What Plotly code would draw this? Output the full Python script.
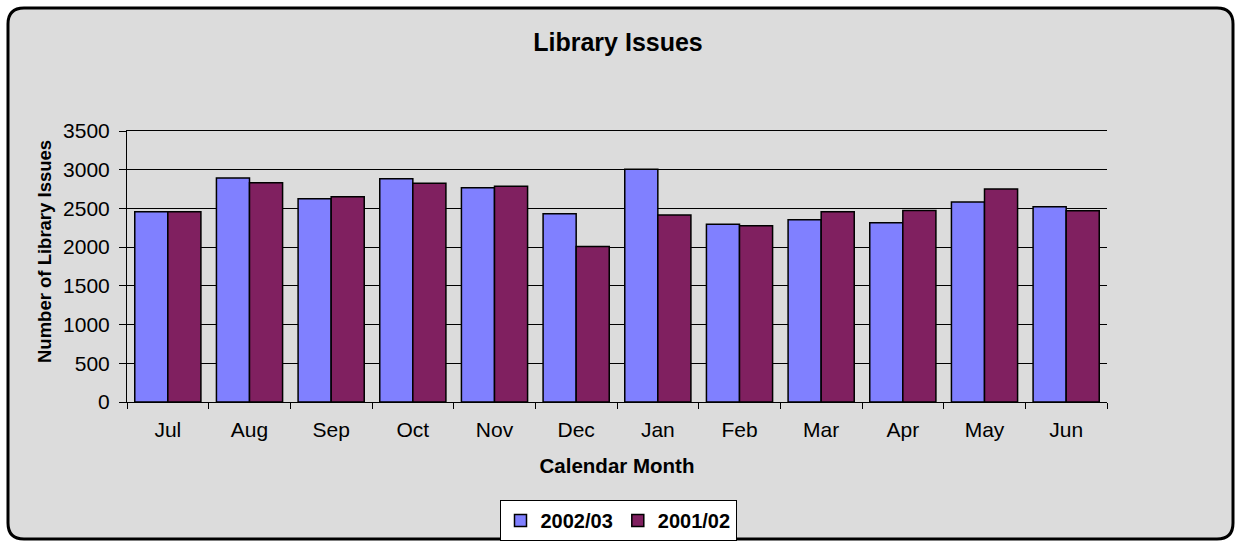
import plotly.graph_objects as go

months = ["Jul", "Aug", "Sep", "Oct", "Nov", "Dec", "Jan", "Feb", "Mar", "Apr", "May", "Jun"]
issues_2002_03 = [2456, 2893, 2625, 2884, 2768, 2431, 3005, 2297, 2353, 2314, 2582, 2521]
issues_2001_02 = [2456, 2833, 2651, 2824, 2785, 2007, 2414, 2275, 2456, 2473, 2751, 2470]
y_ticks = [0, 500, 1000, 1500, 2000, 2500, 3000, 3500]

W, H = 1236, 542
L, R, T, B = 127, 129, 131, 140
PW, PH = W - L - R, H - T - B

def px_x(p):
    return (p - L) / PW

def px_y(p):
    return (H - B - p) / PH

FONT = "Liberation Sans, Arial, sans-serif"
BLUE = "#8080FF"
MAROON = "#802060"
BG = "#dcdcdc"

fig = go.Figure()
fig.add_trace(go.Bar(x=months, y=issues_2002_03, name="2002/03",
                     marker=dict(color=BLUE, line=dict(color="black", width=1.5))))
fig.add_trace(go.Bar(x=months, y=issues_2001_02, name="2001/02",
                     marker=dict(color=MAROON, line=dict(color="black", width=1.5))))

# rounded frame
x0, x1 = px_x(8), px_x(1233)
y0, y1 = px_y(539), px_y(8)
rx, ry = 16 / PW, 16 / PH
path = (f"M {x0+rx},{y1} L {x1-rx},{y1} Q {x1},{y1} {x1},{y1-ry} "
        f"L {x1},{y0+ry} Q {x1},{y0} {x1-rx},{y0} "
        f"L {x0+rx},{y0} Q {x0},{y0} {x0},{y0+ry} "
        f"L {x0},{y1-ry} Q {x0},{y1} {x0+rx},{y1} Z")
fig.add_shape(type="path", path=path, xref="paper", yref="paper",
              line=dict(color="black", width=3), fillcolor=BG, layer="below")

# y-axis title (placed as in the reference, slightly above the plot centre)
fig.add_annotation(text="<b>Number of Library Issues</b>", textangle=-90,
                   xref="paper", yref="paper", x=px_x(44), y=px_y(252),
                   xanchor="center", yanchor="middle", showarrow=False,
                   font=dict(size=18.5, family=FONT, color="black"))

fig.update_layout(
    width=W, height=H,
    margin=dict(l=L, r=R, t=T, b=B, autoexpand=False),
    paper_bgcolor="white",
    plot_bgcolor="rgba(0,0,0,0)",
    font=dict(family=FONT, size=21, color="black"),
    barmode="group", bargap=0.19, bargroupgap=0,
    title=dict(text="<b>Library Issues</b>", x=0.5, xref="container",
               y=1 - 42 / H, yref="container", yanchor="middle", xanchor="center",
               font=dict(size=25, family=FONT, color="black")),
    showlegend=True,
    legend=dict(orientation="h", x=0.5, xanchor="center", xref="container",
                y=1 - 500 / H, yanchor="top", yref="container",
                bgcolor="white", bordercolor="black", borderwidth=1,
                font=dict(size=20, family=FONT, color="black", weight="bold"),
                itemwidth=30, tracegroupgap=0),
    xaxis=dict(
        title=dict(text="<b>Calendar Month</b>", standoff=18,
                   font=dict(size=20.5, family=FONT, color="black")),
        showline=True, linecolor="black", linewidth=1, mirror=True,
        ticks="outside", tickson="boundaries", ticklen=6, tickcolor="black",
        ticklabelstandoff=9,
        showgrid=False, automargin=False,
    ),
    yaxis=dict(
        range=[0, 3500], tickvals=y_ticks,
        showline=True, linecolor="black", linewidth=1,
        ticks="outside", ticklen=7, tickcolor="black",
        ticklabelstandoff=5,
        showgrid=True, gridcolor="black", gridwidth=1,
        zeroline=False, automargin=False,
    ),
)

fig.write_html("out.html", config={"displayModeBar": False},
               post_script="document.body.style.margin='0';")
